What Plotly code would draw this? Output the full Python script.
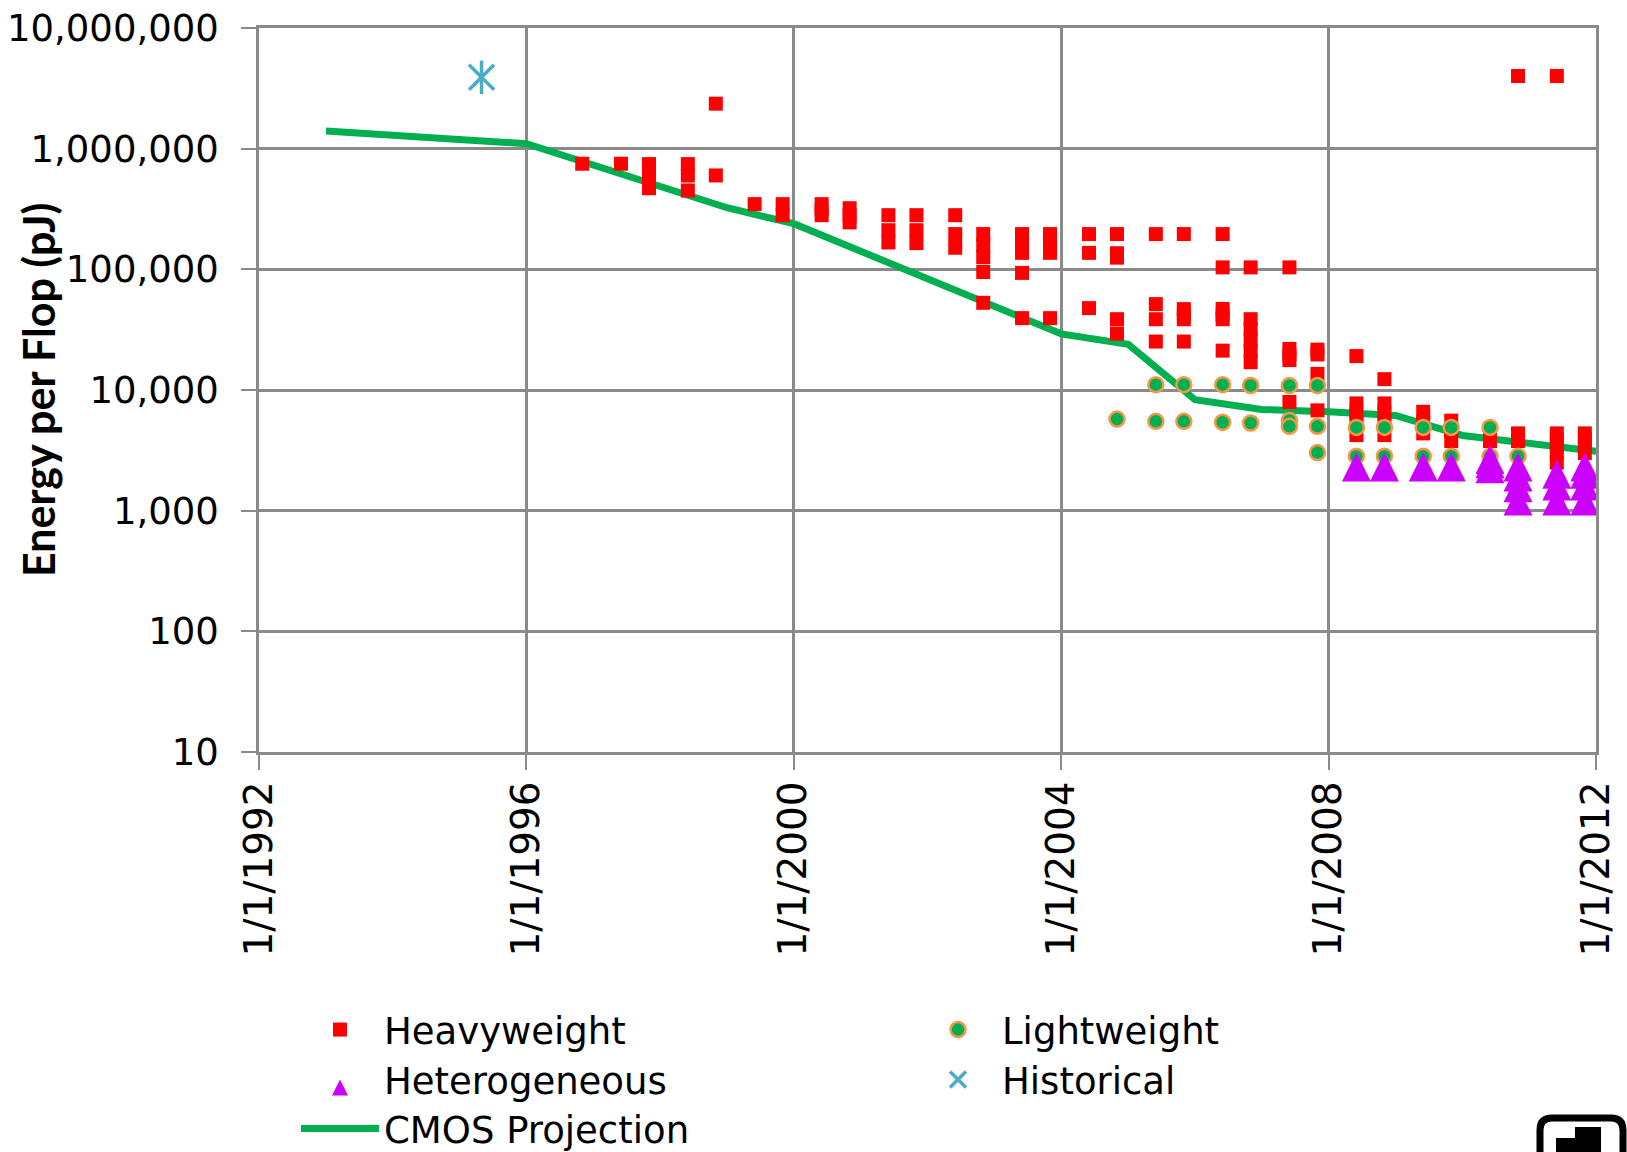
import plotly.graph_objects as go

# ---------------------------------------------------------------------------
# Energy per flop (pJ) of TOP500 systems, grouped by list (year-month)
# ---------------------------------------------------------------------------
HEAVY_LISTS = [
    "1996-11", "1997-06", "1997-11", "1998-06", "1998-11", "1999-06", "1999-11",
    "2000-06", "2000-11", "2001-06", "2001-11", "2002-06", "2002-11", "2003-06",
    "2003-11", "2004-06", "2004-11", "2005-06", "2005-11", "2006-06", "2006-11",
    "2007-06", "2007-11", "2008-06", "2008-11", "2009-06", "2009-11", "2010-06",
    "2010-11", "2011-06", "2011-11",
]
HEAVY_PJ = [
    [750000],
    [750000],
    [745000, 650000, 560000, 470000],
    [745000, 600000, 450000],
    [2360000, 600000],
    [347000],
    [347000, 281000],
    [347000, 310000, 281000],
    [321000, 280000, 245000],
    [281000, 211000, 167000],
    [281000, 211000, 165000],
    [281000, 196000, 151000],
    [196000, 158000, 126000, 95000, 52800],
    [196000, 165000, 137000, 93500, 39400],
    [196000, 165000, 137000, 39400],
    [196000, 137000, 47700],
    [196000, 136000, 125000, 38600, 29300],
    [196000, 51500, 38600, 25200],
    [196000, 46800, 42000, 38600, 25200],
    [196000, 103800, 47000, 42000, 38600, 21200],
    [103800, 38600, 32000, 26000, 21000, 17000],
    [103800, 21900, 19700, 17700, 7950],
    [21600, 19700, 13600, 6780],
    [19100, 7740, 6500, 5500, 4230],
    [12300, 7740, 6500, 5500, 4230],
    [6600, 5400, 4370],
    [5570, 4600, 3780],
    [4200, 3780],
    [4000000, 4370, 3780],
    [4000000, 4370, 3900, 3400, 3000, 2500],
    [4370, 3900, 3400, 3000],
]

LIGHT_LISTS = [
    "2004-11", "2005-06", "2005-11", "2006-06", "2006-11", "2007-06", "2007-11",
    "2008-06", "2008-11", "2009-06", "2009-11", "2010-06", "2010-11",
]
LIGHT_PJ = [
    [5740],
    [11070, 5500],
    [11070, 5500],
    [11070, 5400],
    [10900, 5330],
    [10900, 5600, 5000],
    [10900, 5000, 3030],
    [4900, 2830],
    [4900, 2830],
    [4900, 2830],
    [4900, 2830],
    [4900, 2830],
    [2830],
]

HETERO_LISTS = [
    "2008-06", "2008-11", "2009-06", "2009-11", "2010-06", "2010-11",
    "2011-06", "2011-11",
]
HETERO_PJ = [
    [2300],
    [2300],
    [2300],
    [2300],
    [2650, 2450, 2230],
    [2300, 1900, 1550, 1200],
    [2000, 1600, 1200],
    [2300, 2000, 1600, 1200],
]

HIST_DATES = ["1995-05-01"]
HIST_PJ = [3900000]

CMOS_DATES = [
    "1993-01-01", "1996-01-01", "1999-01-01", "2000-01-01", "2004-01-01",
    "2005-01-01", "2006-01-01", "2007-01-01", "2008-01-01", "2009-01-01",
    "2010-01-01", "2011-01-01", "2012-01-01",
]
CMOS_PJ = [
    1400000, 1100000, 324000, 239000, 29200,
    23900, 8300, 6900, 6600, 6150,
    4200, 3590, 3100,
]

X_TICKS = ["1992-01-01", "1996-01-01", "2000-01-01", "2004-01-01",
           "2008-01-01", "2012-01-01"]
X_TICK_TEXT = ["1/1/1992", "1/1/1996", "1/1/2000", "1/1/2004",
               "1/1/2008", "1/1/2012"]
Y_TICKS = [10, 100, 1000, 10000, 100000, 1000000, 10000000]


def flatten(lists, groups):
    xs, ys = [], []
    for month, values in zip(lists, groups):
        for v in values:
            xs.append(month + "-01")
            ys.append(v)
    return xs, ys


heavy_x, heavy_y = flatten(HEAVY_LISTS, HEAVY_PJ)
light_x, light_y = flatten(LIGHT_LISTS, LIGHT_PJ)
hetero_x, hetero_y = flatten(HETERO_LISTS, HETERO_PJ)

# ---------------------------------------------------------------------------
# Geometry / style
# ---------------------------------------------------------------------------
W, H = 1627, 1152
M_L, M_R, M_T, M_B = 259, 31, 28, 400
PLOT_W = W - M_L - M_R
PLOT_H = H - M_T - M_B
PX_PER_DECADE = PLOT_H / 6.0

GRID = "#8a8a8a"
FONT = "DejaVu Sans"
TXT = 37

RED = "#FF0000"
GREEN = "#00B050"
ORANGE = "#F79646"
PURPLE = "#CC00FF"
CYAN = "#4BACC6"

TRI_SIZE = 29
# arrow-up glyphs hang below their anchor; a twin log axis lifts them by half
# their height so each triangle is centred on its value
TRI_SHIFT = (TRI_SIZE / 2.0) / PX_PER_DECADE


def px(x):
    """page pixel column -> paper x"""
    return (x - M_L) / PLOT_W


def py(y):
    """page pixel row -> paper y"""
    return (H - M_B - y) / PLOT_H


fig = go.Figure()

fig.add_trace(go.Scatter(
    x=CMOS_DATES, y=CMOS_PJ, mode="lines", name="CMOS Projection",
    line=dict(color=GREEN, width=7), legend="legend3",
))
fig.add_trace(go.Scatter(
    x=heavy_x, y=heavy_y, mode="markers", name="Heavyweight",
    marker=dict(symbol="square", size=14, color=RED, line=dict(width=0)),
    legend="legend", legendrank=1,
))
fig.add_trace(go.Scatter(
    x=light_x, y=light_y, mode="markers", name="Lightweight",
    marker=dict(symbol="circle", size=15, color=GREEN,
                line=dict(color=ORANGE, width=2.5)),
    legend="legend", legendrank=2,
))
fig.add_trace(go.Scatter(
    x=HIST_DATES, y=HIST_PJ, mode="markers", name="Historical",
    marker=dict(symbol="x-thin-open", size=25, color=CYAN,
                line=dict(color=CYAN, width=3.5)),
    legend="legend2", legendrank=2, legendgroup="hist",
))
fig.add_trace(go.Scatter(
    x=HIST_DATES, y=HIST_PJ, mode="markers", name="Historical",
    marker=dict(symbol="line-ns-open", size=24, color=CYAN,
                line=dict(color=CYAN, width=3.5)),
    showlegend=False, legendgroup="hist",
))
fig.add_trace(go.Scatter(
    x=hetero_x, y=hetero_y, mode="markers", name="Heterogeneous",
    marker=dict(symbol="arrow-up", size=TRI_SIZE, color=PURPLE,
                line=dict(width=0)),
    yaxis="y2", legend="legend2", legendrank=1,
))

axis_common = dict(
    showgrid=True, gridcolor=GRID, gridwidth=2.5,
    showline=True, linecolor=GRID, linewidth=2.5, mirror=True,
    ticks="outside", ticklen=15, tickwidth=2, tickcolor=GRID,
    zeroline=False,
)


def legend_row(top_px):
    return dict(
        orientation="h", x=px(296), y=py(top_px),
        xanchor="left", yanchor="top",
        entrywidth=525, entrywidthmode="pixels", itemwidth=78,
        font=dict(family=FONT, size=TXT, color="black"),
        bgcolor="rgba(0,0,0,0)", borderwidth=0, traceorder="normal",
    )


# small corner emblem (rounded frame with a block glyph), cut by the page edge
x0, x1, y0, y1, r = px(1540), px(1623), py(1118), py(1180), 12 / PLOT_W
ry = 12 / PLOT_H
frame_path = (
    f"M{x0},{y1} L{x0},{y0 - ry} Q{x0},{y0} {x0 + r},{y0} "
    f"L{x1 - r},{y0} Q{x1},{y0} {x1},{y0 - ry} L{x1},{y1}"
)
emblem = [
    dict(type="path", xref="paper", yref="paper", path=frame_path,
         line=dict(color="black", width=7)),
    dict(type="rect", xref="paper", yref="paper",
         x0=px(1575), x1=px(1601), y0=py(1127), y1=py(1160),
         fillcolor="black", line=dict(width=0)),
    dict(type="rect", xref="paper", yref="paper",
         x0=px(1556), x1=px(1601), y0=py(1138), y1=py(1160),
         fillcolor="black", line=dict(width=0)),
]

fig.update_layout(
    width=W, height=H,
    margin=dict(l=M_L, r=M_R, t=M_T, b=M_B, pad=0, autoexpand=False),
    paper_bgcolor="white", plot_bgcolor="white",
    font=dict(family=FONT, size=TXT, color="black"),
    showlegend=True,
    xaxis=dict(
        type="date", range=["1992-01-01", "2012-01-01"],
        tickmode="array", tickvals=X_TICKS, ticktext=X_TICK_TEXT,
        tickangle=-90, ticklabelstandoff=-4,
        tickfont=dict(family=FONT, size=39, color="black"),
        **axis_common,
    ),
    yaxis=dict(
        type="log", range=[1, 7], tickmode="array", tickvals=Y_TICKS,
        tickformat=",.0f", ticklabelstandoff=15,
        tickfont=dict(family=FONT, size=TXT, color="black"),
        **axis_common,
    ),
    yaxis2=dict(
        type="log", range=[1 - TRI_SHIFT, 7 - TRI_SHIFT],
        overlaying="y", anchor="x", visible=False,
    ),
    legend=legend_row(999),
    legend2=legend_row(1049),
    legend3=legend_row(1098),
    shapes=emblem,
    annotations=[dict(
        text="<b>Energy per Flop (pJ)</b>", textangle=-90,
        xref="paper", yref="paper", x=px(38), y=0.5,
        xanchor="center", yanchor="middle", showarrow=False,
        font=dict(family="Lato", size=43, color="black"),
    )],
)

fig.write_html("out.html")
